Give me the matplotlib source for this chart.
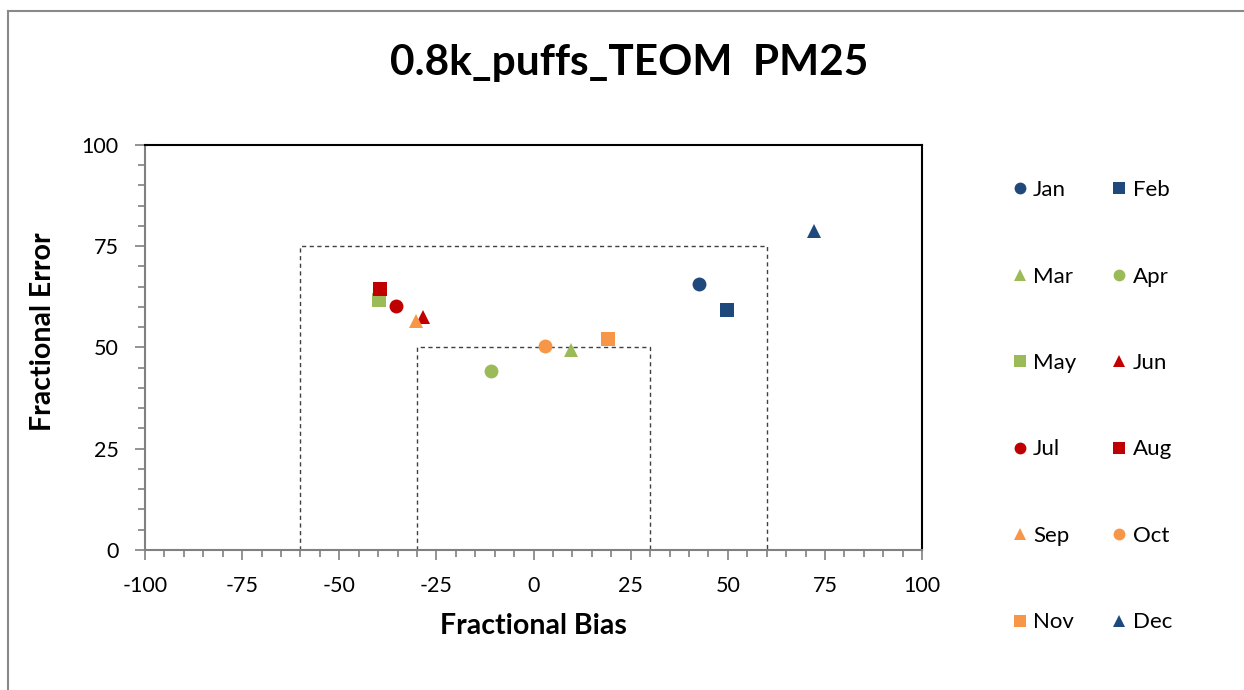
import matplotlib
matplotlib.use("Agg")
import matplotlib.pyplot as plt
from matplotlib.lines import Line2D
from matplotlib.ticker import MultipleLocator

plt.rcParams["font.family"] = ["Lato", "DejaVu Sans"]
plt.rcParams["axes.unicode_minus"] = False

MONTHS = ["Jan", "Feb", "Mar", "Apr", "May", "Jun",
          "Jul", "Aug", "Sep", "Oct", "Nov", "Dec"]
BIAS  = [42.6, 49.8, 9.7, -10.9, -39.8, -28.4, -35.4, -39.5, -30.2, 3.0, 19.2, 72.2]
ERROR = [65.7, 59.3, 49.4, 44.2, 61.7, 57.5, 60.2, 64.4, 56.5, 50.4, 52.1, 78.8]

BLAU   = "#1F497D"
GRUEN  = "#9BBB59"
ROT    = "#C00000"
ORANGE = "#F79646"
FARBEN = [BLAU, BLAU, GRUEN, GRUEN, GRUEN, ROT, ROT, ROT, ORANGE, ORANGE, ORANGE, BLAU]
MARKER = ["o", "s", "^", "o", "s", "^", "o", "s", "^", "o", "s", "^"]

# goal / criteria boxes (bias half-width, error limit)
BOXES = [(60, 75), (30, 50)]

fig = plt.figure(figsize=(12.44, 6.9), dpi=100, facecolor="white")
ax = fig.add_axes([0.1166, 0.2029, 0.6246, 0.587])

handles = []
for b, fb, fe, c, m in zip(MONTHS, BIAS, ERROR, FARBEN, MARKER):
    ms = 10 if m != "^" else 10.5
    h, = ax.plot(fb, fe, linestyle="none", marker=m, color=c, markersize=ms,
                 markeredgewidth=0, label=b)
    handles.append(h)

for bx, ey in BOXES:
    ax.plot([-bx, -bx, bx, bx], [0, ey, ey, 0], color="#404040",
            linestyle=(0, (3, 2.5)), linewidth=1.0, zorder=1)

ax.set_xlim(-100, 100)
ax.set_ylim(0, 100)
ax.xaxis.set_major_locator(MultipleLocator(25))
ax.yaxis.set_major_locator(MultipleLocator(25))
ax.xaxis.set_minor_locator(MultipleLocator(5))
ax.yaxis.set_minor_locator(MultipleLocator(5))
ax.tick_params(which="both", direction="out", color="#808080", labelsize=15.5,
               width=1.2)
ax.tick_params(which="major", length=7)
ax.tick_params(which="minor", length=5)
ax.tick_params(axis="x", pad=12)
ax.tick_params(axis="y", pad=12)

for s in ["left", "bottom"]:
    ax.spines[s].set_color("#808080")
    ax.spines[s].set_linewidth(1.5)
for s in ["top", "right"]:
    ax.spines[s].set_color("black")
    ax.spines[s].set_linewidth(1.5)

ax.set_xlabel("Fractional Bias", fontsize=20.5, fontweight="bold", labelpad=12)
ax.set_ylabel("Fractional Error", fontsize=20.5, fontweight="bold", labelpad=12)
ax.yaxis.set_label_coords(-0.114, 0.538)

fig.text(0.506, 0.908, "0.8k_puffs_TEOM  PM25", ha="center", va="center",
         fontsize=30.5, fontweight="bold")

# legend row-major like the original (Jan Feb / Mar Apr / ...)
order = list(range(0, 12, 2)) + list(range(1, 12, 2))
leg = fig.legend([handles[i] for i in order], [MONTHS[i] for i in order],
                 loc="upper left", bbox_to_anchor=(0.799, 0.768), ncol=2,
                 frameon=False, fontsize=16, markerscale=0.85,
                 labelspacing=2.99, columnspacing=1.7, handlelength=0.5,
                 handletextpad=0.35)

# chart border (Excel chart area), only left and top are visible
fig.add_artist(Line2D([8 / 1244, 1.01], [1 - 11 / 690, 1 - 11 / 690],
                      transform=fig.transFigure, color="#898989", linewidth=1.5))
fig.add_artist(Line2D([8 / 1244, 8 / 1244], [1 - 11 / 690, -0.01],
                      transform=fig.transFigure, color="#898989", linewidth=1.5))

fig.savefig("out.png", dpi=100, facecolor="white")
